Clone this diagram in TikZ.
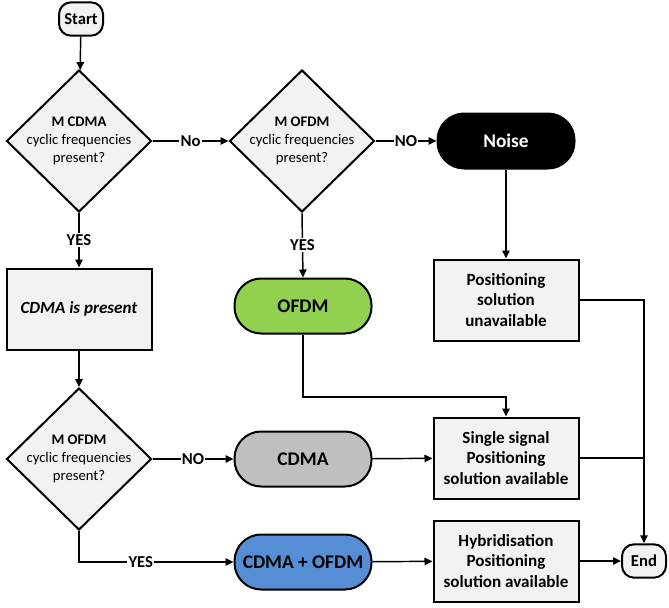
\documentclass[tikz,border=0pt]{standalone}
\usepackage{fontspec}
\setmainfont{Carlito}
\usetikzlibrary{shapes.geometric,arrows.meta}

\definecolor{boxgrey}{HTML}{F2F2F2}
\definecolor{ofdmgreen}{HTML}{92D050}
\definecolor{cdmagrey}{HTML}{BFBFBF}
\definecolor{hybridblue}{HTML}{558ED5}

\begin{document}
\begin{tikzpicture}[x=0.75pt,y=-0.75pt,
    decision/.style={diamond, draw, line width=1.5pt, fill=boxgrey, inner sep=-20pt,
        minimum width=108.75pt, minimum height=106.5pt, align=center,
        font=\fontsize{11}{13.5}\selectfont},
    terminal/.style={rectangle, draw, line width=1.5pt, fill=boxgrey, rounded corners=9pt,
        minimum width=33pt, minimum height=25pt, inner sep=0pt, font=\bfseries\fontsize{12.5}{14}\selectfont},
    pill/.style={rectangle, draw, line width=1.5pt, rounded corners=20pt, inner sep=0pt,
        minimum width=102.75pt, minimum height=41.25pt, font=\bfseries\fontsize{14.5}{17}\selectfont},
    stepbox/.style={rectangle, draw, line width=1.5pt, fill=boxgrey, inner sep=0pt,
        minimum width=108.75pt, minimum height=60.75pt, align=center,
        font=\bfseries\fontsize{12.8}{15.4}\selectfont},
    arr/.style={-{Triangle[length=6pt,width=5.5pt]}, line width=1.1pt},
    lbl/.style={fill=white, inner sep=1pt, font=\bfseries\fontsize{12.5}{14}\selectfont}]

    \useasboundingbox (0,0) rectangle (669,608);

    % Left column
    \node[terminal] (start) at (81,19) {Start};
    \node[decision] (d1) at (79,141) {\textbf{M CDMA}\\cyclic frequencies\\present?};
    \node[stepbox] (cdmapres) at (79,309) {\textit{CDMA is present}};
    \node[decision] (d3) at (79,459) {\textbf{M OFDM}\\cyclic frequencies\\present?};

    % Middle column
    \node[decision] (d2) at (302,141) {\textbf{M OFDM}\\cyclic frequencies\\present?};
    \node[pill, fill=ofdmgreen] (ofdm) at (303,306) {OFDM};
    \node[pill, fill=cdmagrey] (cdma) at (303,459) {CDMA};
    \node[pill, fill=hybridblue] (both) at (303,562) {CDMA + OFDM};

    % Right column
    \node[pill, fill=black, text=white] (noise) at (506,141) {Noise};
    \node[stepbox] (unavail) at (506,300) {Positioning\\solution\\unavailable};
    \node[stepbox] (single) at (506,458) {Single signal\\Positioning\\solution available};
    \node[stepbox] (hybrid) at (506,561) {Hybridisation\\Positioning\\solution available};
    \node[terminal] (end) at (644,561) {End};
    \coordinate (bend) at (303,397);

    % Connectors
    \draw[arr] (start) -- (d1);
    \draw[arr] (d1.east) -- node[lbl] {No} (d2.west);
    \draw[arr] (d2.east) -- node[lbl] {NO} (noise.west);
    \draw[arr] (d1.south) -- node[lbl] {YES} (cdmapres.north);
    \draw[arr] (d2.south) -- node[lbl] {YES} (ofdm.north);
    \draw[arr] (noise) -- (unavail);
    \draw[arr] (cdmapres) -- (d3);
    \draw[arr] (d3.east) -- node[lbl] {NO} (cdma.west);
    \draw[arr] (d3.south) |- node[lbl, pos=0.7] {YES} (both.west);
    \draw[arr] (ofdm.south) -- (bend) -| (single.north);
    \draw[arr] (cdma) -- (single);
    \draw[arr] (both) -- (hybrid);
    \draw[arr] (hybrid) -- (end);
    \draw[arr] (unavail.east) -| (end.north);
    \draw[line width=1.1pt] (single.east) -- (single.east -| end.north);
\end{tikzpicture}
\end{document}
